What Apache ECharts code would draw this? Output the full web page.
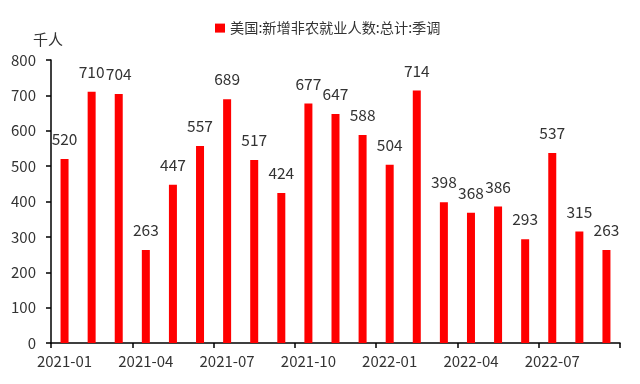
<!DOCTYPE html>
<html>
<head>
<meta charset="utf-8">
<script src="https://cdn.jsdelivr.net/npm/echarts@6/dist/echarts.min.js"></script>
<style>
html,body{margin:0;padding:0;background:#fff;}
#chart{width:640px;height:384px;}
</style>
</head>
<body>
<div id="chart"></div>
<script>
const categories = ['2021-01','2021-02','2021-03','2021-04','2021-05','2021-06','2021-07','2021-08','2021-09','2021-10','2021-11','2021-12','2022-01','2022-02','2022-03','2022-04','2022-05','2022-06','2022-07','2022-08','2022-09'];
const payrolls = [520,710,704,263,447,557,689,517,424,677,647,588,504,714,398,368,386,293,537,315,263];
const seriesName = '美国:新增非农就业人数:总计:季调';
const yUnit = '千人';

const font = '"Noto Sans CJK SC","Microsoft YaHei",sans-serif';
const chart = echarts.init(document.getElementById('chart'), null, {renderer:'canvas'});
chart.setOption({
  animation:false,
  backgroundColor:'#fff',
  textStyle:{fontFamily:font},
  legend:{
    left:210, top:16,
    itemWidth:10, itemHeight:9, itemGap:3,
    textStyle:{fontSize:14.2, color:'#333', fontFamily:font},
    data:[{name:seriesName, icon:'rect'}]
  },
  graphic:[{type:'text', left:33, top:32, style:{text:yUnit, fontSize:15, fill:'#333', fontFamily:font}}],
  grid:{left:51, right:20, top:60, bottom:41, containLabel:false},
  xAxis:{
    type:'category',
    data:categories,
    boundaryGap:true,
    axisLine:{lineStyle:{color:'#000', width:1.5}},
    axisTick:{show:true, interval:2, length:5, lineStyle:{color:'#000', width:1.5}},
    axisLabel:{interval:2, fontSize:15, color:'#333', margin:11, fontFamily:font}
  },
  yAxis:{
    type:'value', min:0, max:800, interval:100,
    axisLine:{show:true, lineStyle:{color:'#000', width:1.5}},
    axisTick:{show:true, length:5, lineStyle:{color:'#000', width:1.5}},
    splitLine:{show:false},
    axisLabel:{fontSize:15, color:'#333', margin:15, fontFamily:font}
  },
  series:[{
    name:seriesName,
    type:'bar',
    data:payrolls,
    barWidth:8,
    itemStyle:{color:'#ff0000'},
    label:{show:true, position:'top', distance:12, fontSize:15.5, color:'#333', fontFamily:font}
  }]
});
</script>
</body>
</html>
